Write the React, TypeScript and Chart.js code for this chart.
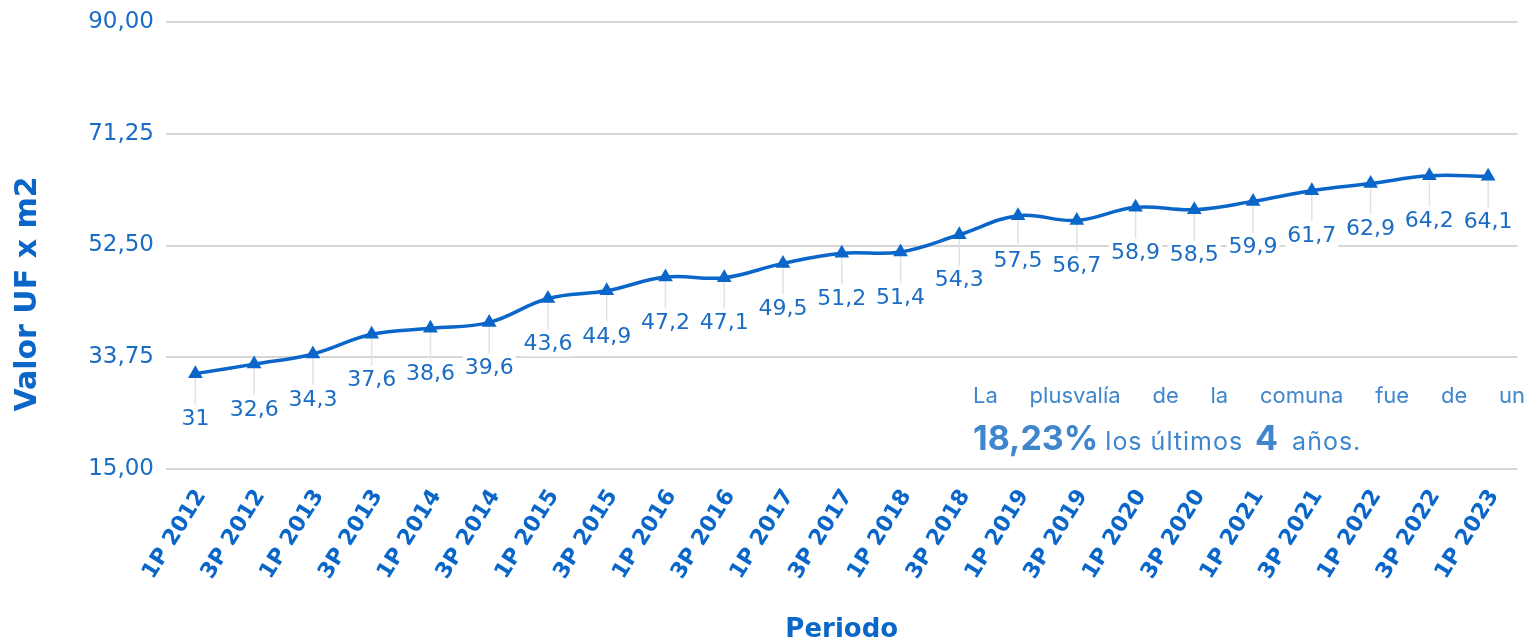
import React, { useEffect, useRef } from "react";
import { Chart, registerables } from "chart.js";
Chart.register(...registerables);

const categories = ["1P 2012","3P 2012","1P 2013","3P 2013","1P 2014","3P 2014","1P 2015","3P 2015","1P 2016","3P 2016","1P 2017","3P 2017","1P 2018","3P 2018","1P 2019","3P 2019","1P 2020","3P 2020","1P 2021","3P 2021","1P 2022","3P 2022","1P 2023"];
const values = [31,32.6,34.3,37.6,38.6,39.6,43.6,44.9,47.2,47.1,49.5,51.2,51.4,54.3,57.5,56.7,58.9,58.5,59.9,61.7,62.9,64.2,64.1];
const yTicks = [15, 33.75, 52.5, 71.25, 90];
const yTitle = "Valor UF x m2";
const xTitle = "Periodo";
const noteWords = ["La","plusvalía","de","la","comuna","fue","de","un"];
const notePct = "18,23%";
const noteMid = "los últimos";
const noteYears = "4";
const noteEnd = "años.";

const LINE = "#0a66c8";
const TEXT = "#1a6cc4";
const NOTE = "#3f86cc";
const fmt = (v: number) => v.toFixed(2).replace(".", ",");
const fmtLabel = (v: number) => String(v).replace(".", ",");

const labelPlugin = {
  id: "pointLabels",
  beforeDatasetsDraw(chart: any) {
    const ctx = chart.ctx;
    const meta = chart.getDatasetMeta(0);
    ctx.save();
    ctx.font = "22px 'DejaVu Sans'";
    ctx.textAlign = "center";
    ctx.textBaseline = "middle";
    meta.data.forEach((pt: any, i: number) => {
      const t = fmtLabel(values[i]);
      const w = ctx.measureText(t).width;
      const cy = pt.y + 45;
      ctx.fillStyle = "#ffffff";
      ctx.fillRect(pt.x - w / 2 - 2, cy - 13, w + 4, 26);
      ctx.strokeStyle = "#e2e2e2";
      ctx.lineWidth = 1.5;
      ctx.beginPath();
      ctx.moveTo(pt.x, pt.y);
      ctx.lineTo(pt.x, cy - 14);
      ctx.stroke();
      ctx.fillStyle = TEXT;
      ctx.fillText(t, pt.x, cy + 1);
    });
    ctx.restore();
  },
  afterDraw(chart: any) {
    const ctx = chart.ctx;
    ctx.save();
    ctx.translate(28, 294);
    ctx.rotate(-Math.PI / 2);
    ctx.font = "bold 30px 'DejaVu Sans'";
    ctx.fillStyle = LINE;
    ctx.textAlign = "center";
    ctx.textBaseline = "middle";
    ctx.fillText(yTitle, 0, 0);
    ctx.restore();

    ctx.save();
    ctx.fillStyle = NOTE;
    ctx.textBaseline = "alphabetic";
    ctx.textAlign = "left";
    ctx.font = "22px Inter";
    const left = 973, right = 1525;
    const ws = noteWords.map((w) => ctx.measureText(w).width);
    const tot = ws.reduce((a, b) => a + b, 0);
    const gap = (right - left - tot) / (noteWords.length - 1);
    let x = left;
    noteWords.forEach((w, i) => {
      ctx.fillText(w, x, 403);
      x += ws[i] + gap;
    });
    x = left;
    const by = 450;
    ctx.font = "bold 34px Inter";
    ctx.fillText(notePct, x, by);
    x += ctx.measureText(notePct).width + 7;
    ctx.font = "25px Inter";
    (ctx as any).letterSpacing = "1px";
    ctx.fillText(noteMid, x, by);
    x += ctx.measureText(noteMid).width + 12;
    (ctx as any).letterSpacing = "0px";
    ctx.font = "bold 34px Inter";
    ctx.fillText(noteYears, x, by);
    x += ctx.measureText(noteYears).width + 14;
    ctx.font = "25px Inter";
    (ctx as any).letterSpacing = "1px";
    ctx.fillText(noteEnd, x, by);
    ctx.restore();
  },
};

export default function App() {
  const ref = useRef<HTMLCanvasElement>(null);
  useEffect(() => {
    document.body.style.margin = "0";
    const chart = new Chart(ref.current!, {
      type: "line",
      data: {
        labels: categories,
        datasets: [
          {
            data: values,
            borderColor: LINE,
            backgroundColor: LINE,
            borderWidth: 3.5,
            tension: 0.4,
            pointStyle: "triangle",
            pointRadius: 8.5,
            pointBackgroundColor: LINE,
            pointBorderColor: LINE,
            pointBorderWidth: 0,
          },
        ],
      },
      options: {
        animation: false,
        responsive: true,
        maintainAspectRatio: false,
        layout: { padding: { top: 22, right: 5, left: 0, bottom: 0 } },
        plugins: { legend: { display: false }, tooltip: { enabled: false } },
        scales: {
          x: {
            offset: true,
            grid: { display: false },
            border: { display: false },
            ticks: {
              color: LINE,
              font: { family: "'DejaVu Sans'", size: 22, weight: "bold" },
              maxRotation: 58,
              minRotation: 58,
              padding: 8,
              labelOffset: 6,
              autoSkip: false,
            },
            title: {
              display: true,
              text: xTitle,
              color: LINE,
              font: { family: "'DejaVu Sans'", size: 26, weight: "bold" },
              padding: { top: 0, bottom: -4 },
            },
            afterFit: (s: any) => {
              s.height = 173;
              s.paddingLeft = 0;
              s.paddingRight = 0;
            },
          },
          y: {
            min: 15,
            max: 90,
            grid: { color: "#d6d6d6", lineWidth: 2, drawTicks: false },
            border: { display: false },
            afterBuildTicks: (s: any) => {
              s.ticks = yTicks.map((v) => ({ value: v }));
            },
            ticks: {
              color: TEXT,
              font: { family: "'DejaVu Sans'", size: 23 },
              padding: 12,
              callback: (v: any) => fmt(Number(v)),
            },
            afterFit: (s: any) => {
              s.width = 166;
              s.paddingTop = 0;
              s.paddingBottom = 0;
            },
          },
        },
      },
      plugins: [labelPlugin],
    });
    return () => chart.destroy();
  }, []);
  return (
    <div style={{ width: 1526, height: 642, position: "relative" }}>
      <canvas ref={ref} />
    </div>
  );
}
